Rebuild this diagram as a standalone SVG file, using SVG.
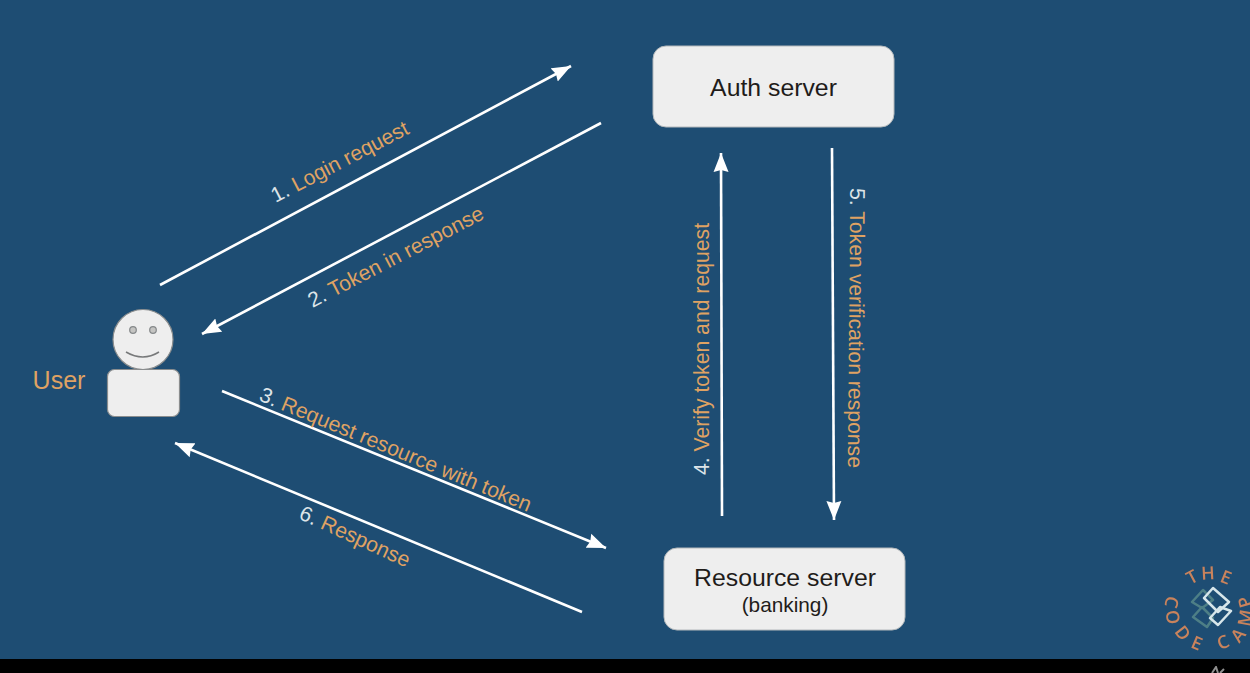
<svg xmlns="http://www.w3.org/2000/svg" width="1250" height="673" viewBox="0 0 1250 673">
<style>
.box{fill:#eeeeee;stroke:#b4b9bc;stroke-width:1}
.t{font-family:"Liberation Sans",Arial,sans-serif;font-size:24.800px;fill:#1f1c1a;text-anchor:middle}
.l{font-family:"Liberation Sans",Arial,sans-serif;font-size:21.200px;fill:#dfa263;text-anchor:middle}
.n{fill:#dde4e8}
.c{stroke:#ffffff;stroke-width:2.600;fill:none;marker-end:url(#a)}
.logo{font-family:"Open Sans","Liberation Sans",sans-serif;font-size:18px;font-weight:600;fill:#c9835c;text-anchor:middle}
</style>
<defs>
<marker id="a" markerUnits="userSpaceOnUse" markerWidth="20" markerHeight="16" refX="19" refY="8" orient="auto"><path d="M0 .5L19 8L0 15.500L2 8Z" fill="#ffffff"/></marker>
<filter id="soft" x="-10%" y="-10%" width="120%" height="120%"><feGaussianBlur stdDeviation=".6"/></filter>
</defs>
<rect width="1250" height="673" fill="#1e4d73"/>
<rect y="659" width="1250" height="14" fill="#000000"/>
<g id="connectors">
<path class="c" d="M160 285L571 66"/>
<path class="c" d="M601 123L202 334"/>
<path class="c" d="M222 391L606 548"/>
<path class="c" d="M582 612L175 443"/>
<path class="c" d="M722 516L721 153"/>
<path class="c" d="M832 148L834 520"/>
</g>
<g id="auth-server"><rect class="box" x="653" y="46" width="241" height="81" rx="13"/><text class="t" x="773.500" y="96">Auth server</text></g>
<g id="resource-server"><rect class="box" x="664" y="548" width="241" height="82" rx="13"/><text class="t" x="785" y="586">Resource server</text><text class="t" x="785" y="612" style="font-size:20.800px">(banking)</text></g>
<g id="user">
<circle cx="143" cy="339.500" r="30" fill="#eeeeee" stroke="#8a8d8e" stroke-width="1.200"/>
<circle cx="133" cy="330" r="3.300" fill="#c4c4c2" stroke="#85888a" stroke-width="1.200"/>
<circle cx="153" cy="330" r="3.300" fill="#c4c4c2" stroke="#85888a" stroke-width="1.200"/>
<path d="M126 352Q143 362 159 352" fill="none" stroke="#77797a" stroke-width="1.500"/>
<rect x="107.500" y="369.500" width="72" height="47" rx="7" fill="#eeeeee" stroke="#8a8d8e" stroke-width="1.200"/>
<text class="l" x="59" y="389" style="font-size:25px">User</text>
</g>
<g id="labels">
<text class="l" transform="translate(343 168) rotate(-27.500)"><tspan class="n">1.</tspan> Login request</text>
<text class="l" transform="translate(399 263) rotate(-27.500)"><tspan class="n">2.</tspan> Token in response</text>
<text class="l" transform="translate(393 456) rotate(22.500)"><tspan class="n">3.</tspan> Request resource with token</text>
<text class="l" transform="translate(352 543) rotate(24.500)"><tspan class="n">6.</tspan> Response</text>
<text class="l" transform="translate(709 349) rotate(-90)"><tspan class="n">4.</tspan> Verify token and request</text>
<text class="l" transform="translate(849 328) rotate(90.500)"><tspan class="n">5.</tspan> Token verification response</text>
</g>
<g id="logo" filter="url(#soft)">
<text class="logo" y="6.500" transform="translate(1192 577) rotate(-28)">T</text>
<text class="logo" y="6.500" transform="translate(1208 573) rotate(-3)">H</text>
<text class="logo" y="6.500" transform="translate(1226 577) rotate(22)">E</text>
<text class="logo" y="6.500" transform="translate(1172 602) rotate(104)">C</text>
<text class="logo" y="6.500" transform="translate(1173 617) rotate(82)">O</text>
<text class="logo" y="6.500" transform="translate(1183 633) rotate(52)">D</text>
<text class="logo" y="6.500" transform="translate(1197 643) rotate(23)">E</text>
<text class="logo" y="6.500" transform="translate(1223 642) rotate(-23)">C</text>
<text class="logo" y="6.500" transform="translate(1238 635) rotate(-51)">A</text>
<text class="logo" y="6.500" transform="translate(1245 618) rotate(-80)">M</text>
<text class="logo" y="6.500" transform="translate(1245 602) rotate(-106)">P</text>
<g fill="none" stroke-width="2.500" stroke-linejoin="round">
<path d="M1203 590L1213 600L1202 608L1192 602Z" stroke="#4e7f86"/>
<path d="M1202 607L1213 618L1207 627L1193 617Z" stroke="#4e7f86"/>
<path d="M1213 588L1229 602L1218 612L1204 598Z" stroke="#d7e6ea"/>
<path d="M1220 607L1231 611L1218 625L1210 618Z" stroke="#d7e6ea"/>
</g>
</g>
<path d="M1212 673L1216 667L1218 673M1220 673L1224 669" fill="none" stroke="#8f8f8f" stroke-width="2" filter="url(#soft)"/>
</svg>
